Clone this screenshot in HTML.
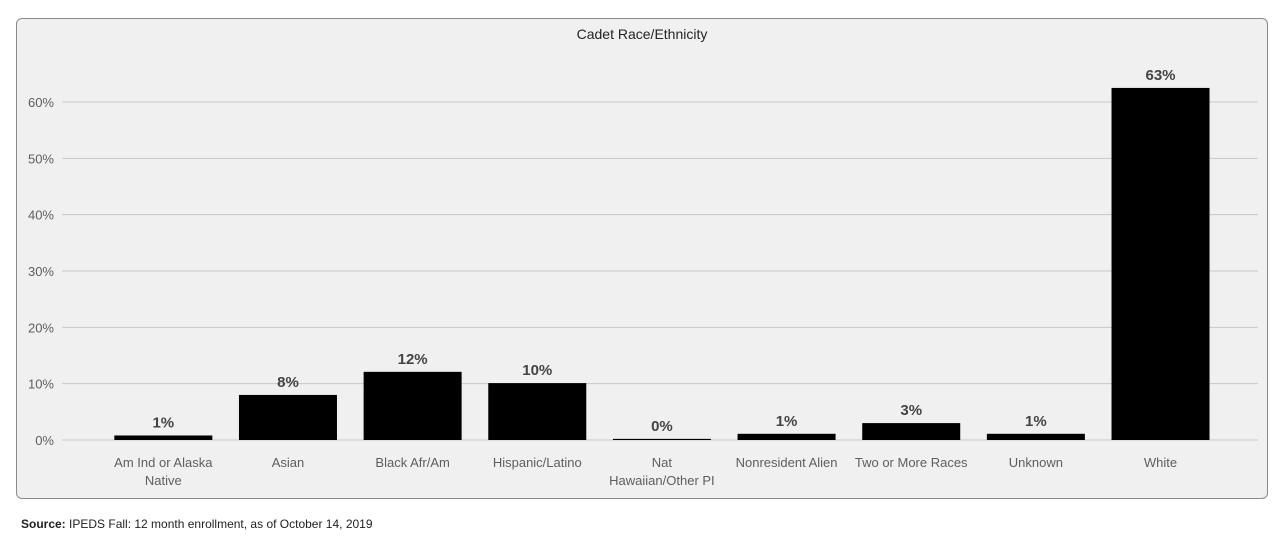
<!DOCTYPE html>
<html><head><meta charset="utf-8"><style>
html,body{margin:0;padding:0;background:#fff;width:1283px;height:546px;overflow:hidden;font-family:"Liberation Sans","DejaVu Sans",sans-serif;}
#panel{position:absolute;left:16px;top:18px;width:1250px;height:479px;border:1px solid #8a8a8a;border-radius:6px;background:#f0f0f0;}
#src{position:absolute;left:21px;top:517px;font-size:12px;color:#222;}
svg{position:absolute;left:0;top:0;}
</style></head><body>
<div id="panel"></div>
<svg id="chart" width="1283" height="546">
<text x="642" y="39" text-anchor="middle" font-size="14" fill="#252423">Cadet Race/Ethnicity</text>
</svg>
<div id="src"><b>Source:</b> IPEDS Fall: 12 month enrollment, as of October 14, 2019</div>
<script>
const categories=[["Am Ind or Alaska","Native"],["Asian"],["Black Afr/Am"],["Hispanic/Latino"],["Nat","Hawaiian/Other PI"],["Nonresident Alien"],["Two or More Races"],["Unknown"],["White"]];
const values=[0.8,8.0,12.1,10.1,0.2,1.1,3.0,1.1,62.5];
const valueLabels=["1%","8%","12%","10%","0%","1%","3%","1%","63%"];
const yTicks=[0,10,20,30,40,50,60];
const svg=document.getElementById('chart');
const NS='http://www.w3.org/2000/svg';
const y0=440,pxPer=(440-102)/60;
const y=v=>y0-v*pxPer;
const x0=101,step=124.65,bw=98;
const xc=i=>x0+step*i+step/2;
function mk(t,a){const e=document.createElementNS(NS,t);for(const k in a)e.setAttribute(k,a[k]);svg.appendChild(e);return e;}
yTicks.forEach(t=>{
 const g=mk('line',{x1:62,x2:1258,y1:y(t),y2:y(t),stroke:'#c8c8c8','stroke-width':1});
 
 
 const l=mk('text',{x:54,y:y(t)+5,'text-anchor':'end','font-size':13,fill:'#605e5c'});
 l.textContent=t+'%';
 
 
});
values.forEach((v,i)=>{
 const r=mk('rect',{x:xc(i)-bw/2,y:y(v),width:bw,height:Math.max(y0-y(v),1),fill:'#000'});
 
 
 const vl=mk('text',{x:xc(i),y:y(v)-8,'text-anchor':'middle','font-size':15,'font-weight':'bold',fill:'#444'});
 vl.textContent=valueLabels[i];
 
 
 categories[i].forEach((line,j)=>{
  const c=mk('text',{x:xc(i),y:467+j*18,'text-anchor':'middle','font-size':13,fill:'#605e5c'});
  c.textContent=line;
  
  
 });
});
</script>
</body></html>
